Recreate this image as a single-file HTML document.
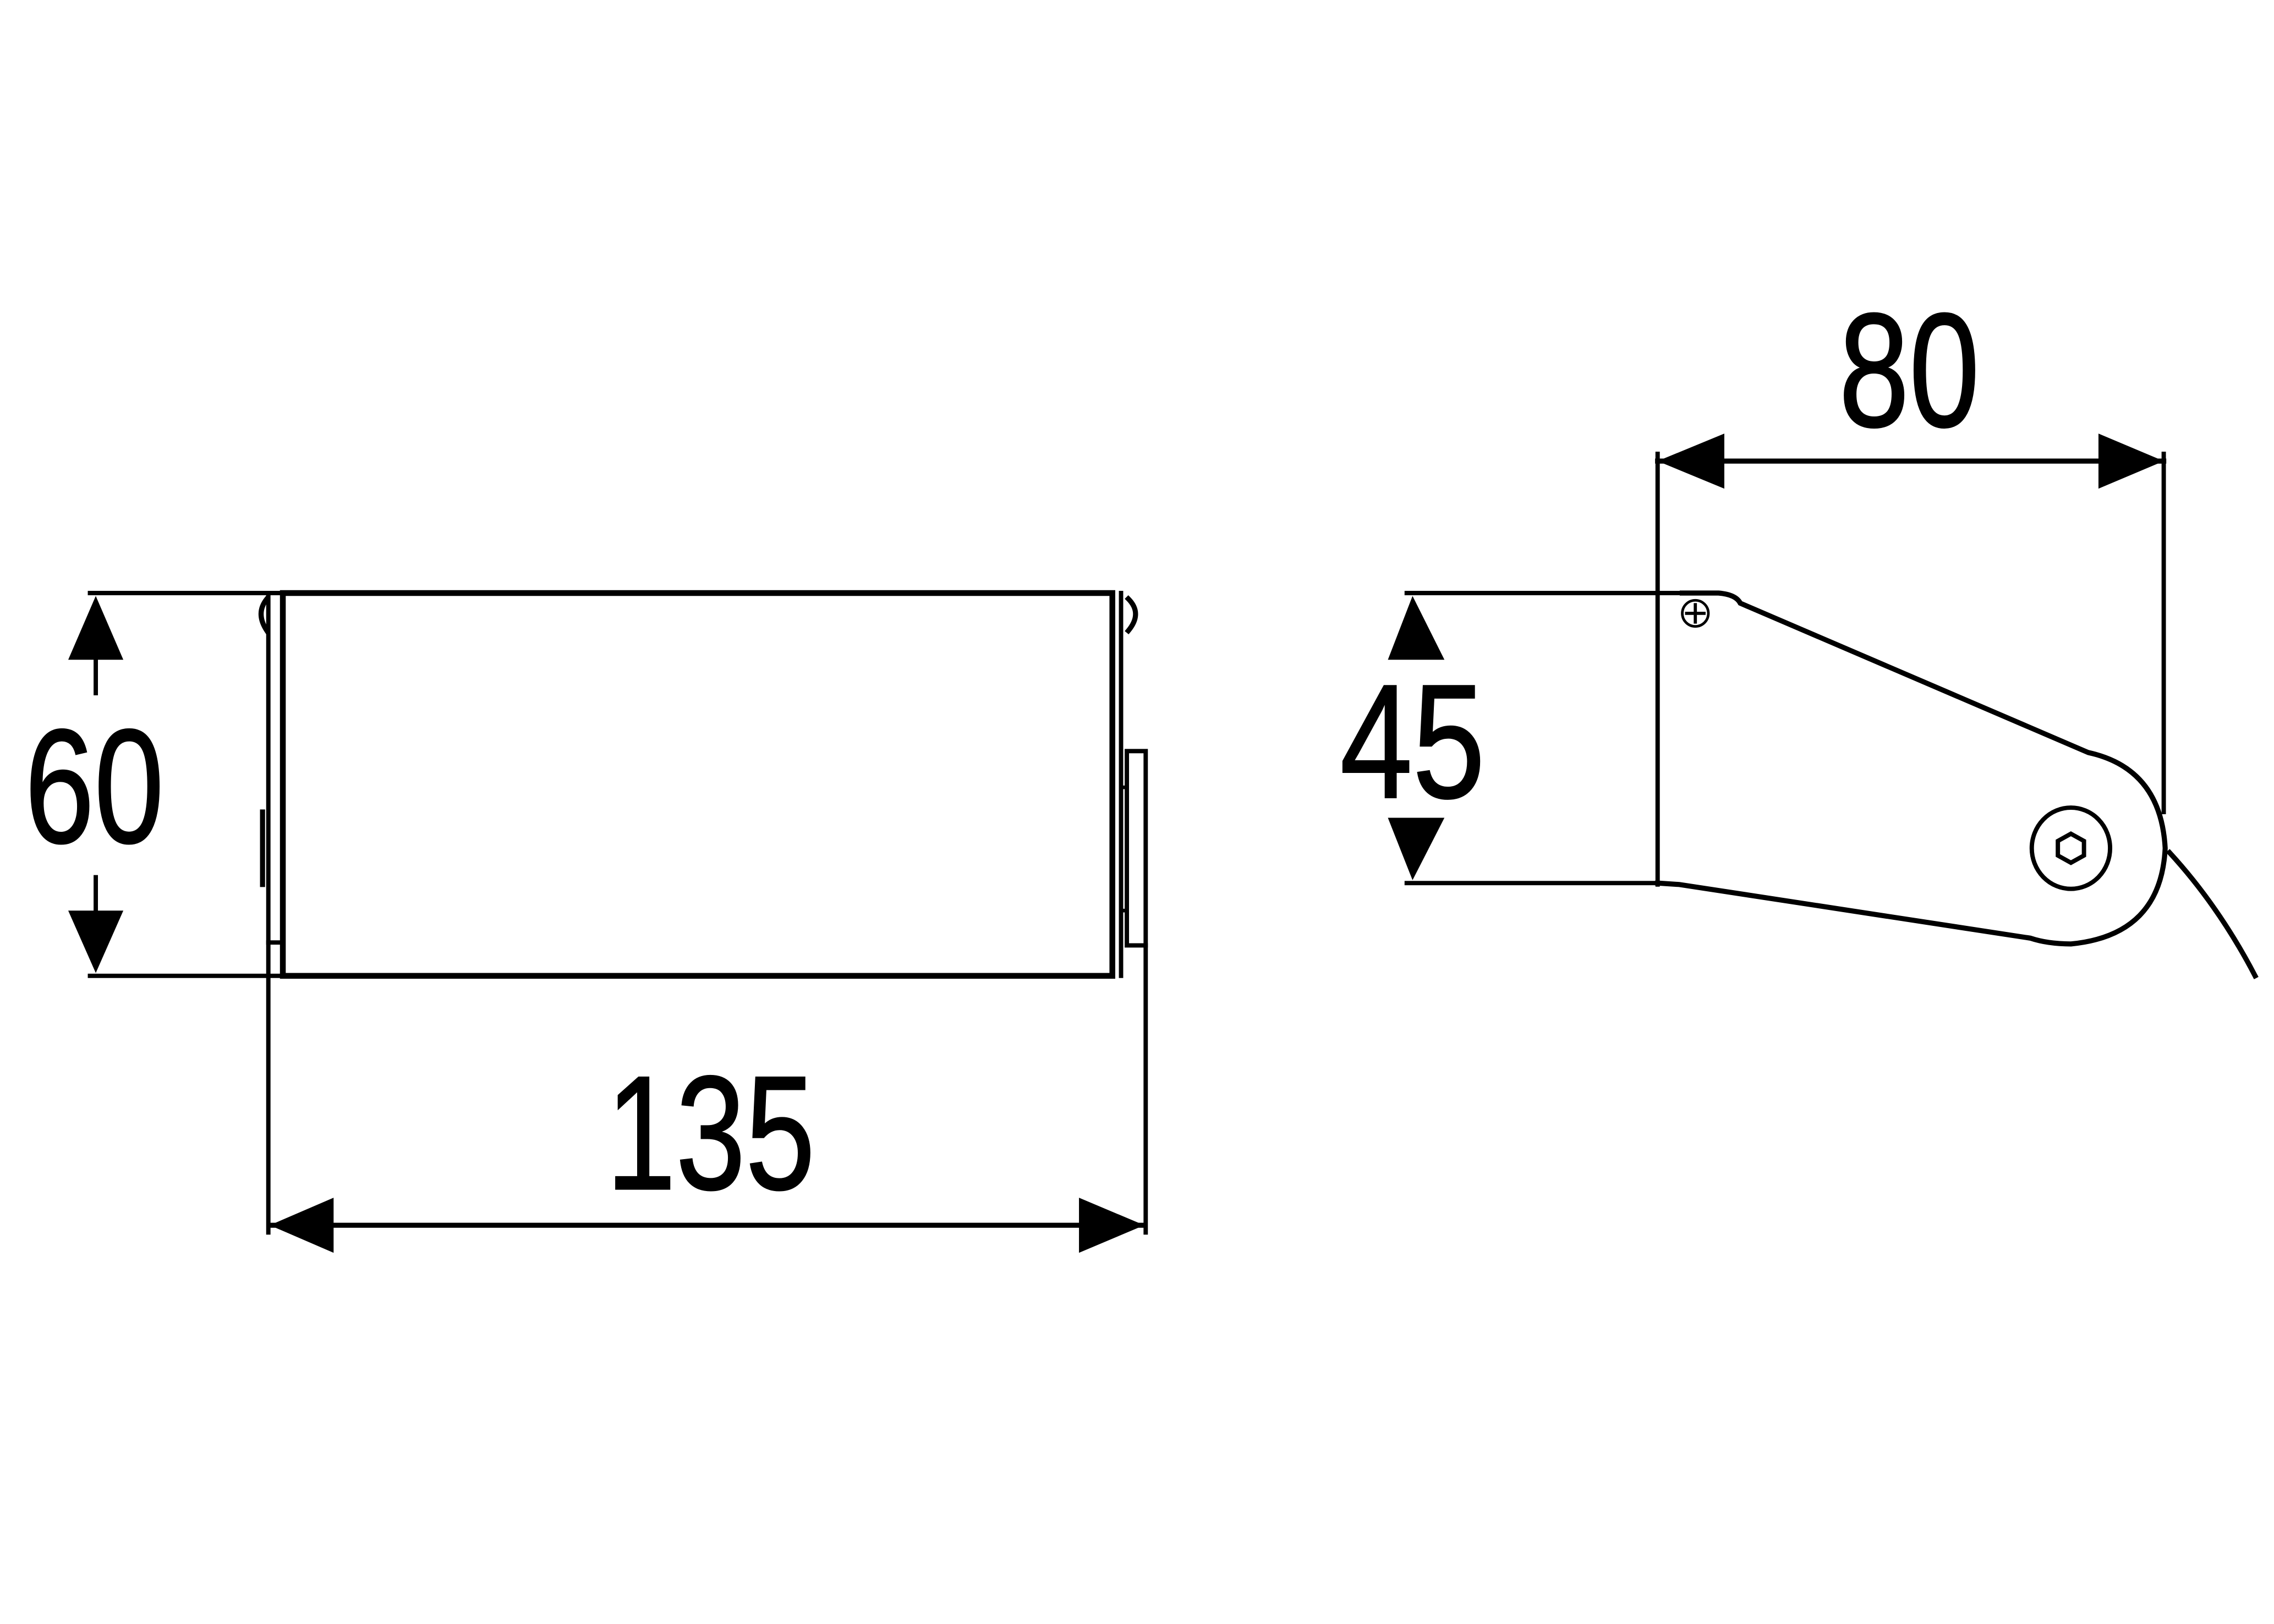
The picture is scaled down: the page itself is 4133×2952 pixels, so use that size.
<!DOCTYPE html>
<html><head><meta charset="utf-8"><style>html,body{margin:0;padding:0;background:#fff}svg{display:block}</style></head>
<body>
<svg width="4133" height="2952" viewBox="0 0 1568 1120" xmlns="http://www.w3.org/2000/svg">
<rect width="1568" height="1120" fill="#fff"/>
<g fill="none" stroke="#000" stroke-width="3.5" stroke-linecap="square">
<!-- Left view -->
<rect x="195" y="409" width="572" height="264" stroke-width="4"/>
<line x1="62" y1="409" x2="195" y2="409" stroke-width="3"/>
<line x1="62" y1="673" x2="195" y2="673" stroke-width="3"/>
<line x1="185" y1="409" x2="185" y2="850" stroke-width="3"/>
<line x1="185" y1="650" x2="195" y2="650" stroke-width="3"/>
<line x1="181" y1="560" x2="181" y2="610" stroke-width="3.5"/>
<path d="M184 413 Q176 423 184 435" stroke-width="3.5"/>
<line x1="773" y1="409" x2="773" y2="673" stroke-width="3"/>
<rect x="777" y="518" width="13" height="134" stroke-width="3"/>
<line x1="790" y1="652" x2="790" y2="850" stroke-width="3"/>
<line x1="773" y1="543" x2="777" y2="543" stroke-width="2.5"/>
<line x1="773" y1="628" x2="777" y2="628" stroke-width="2.5"/>
<path d="M778 413 Q788 423 778 435" stroke-width="3.5"/>
<!-- 60 dim -->
<line x1="66" y1="455" x2="66" y2="478" stroke-width="3"/>
<line x1="66" y1="605" x2="66" y2="628" stroke-width="3"/>
<!-- 135 dim -->
<line x1="186" y1="845" x2="789" y2="845" stroke-width="3.5"/>
<!-- Right view -->
<line x1="1143" y1="313" x2="1143" y2="610" stroke-width="3"/>
<line x1="1492" y1="313" x2="1492" y2="560" stroke-width="3"/>
<line x1="1143" y1="318" x2="1492" y2="318" stroke-width="3.5"/>
<line x1="970" y1="409" x2="1180" y2="409" stroke-width="3"/>
<line x1="970" y1="609" x2="1143" y2="609" stroke-width="3"/>
<path d="M1160 409 L1185 409 Q1197 410 1200 416 L1440 519 Q1490 530 1493 585 Q1490 645 1428 651 Q1412 651 1400 647 L1158 610 L1143 609" stroke-width="3.5"/>
<path d="M1496 588 Q1530 625 1555 673" stroke-width="3.5"/>
<ellipse cx="1428" cy="585" rx="27" ry="28" stroke-width="3"/>
<polygon points="1428,575 1437,580 1437,590 1428,595 1419,590 1419,580" stroke-width="3"/>
<circle cx="1169" cy="423" r="9" stroke-width="1.8"/>
<path d="M1169 417 V429 M1163 423 H1175" stroke-width="2.2"/>
</g>
<g fill="#000">
<polygon points="66,411 47,455 85,455"/>
<polygon points="66,671 47,628 85,628"/>
<polygon points="186,845 230,826 230,864"/>
<polygon points="789,845 744,826 744,864"/>
<polygon points="1143,318 1189,299 1189,337"/>
<polygon points="1492,318 1447,299 1447,337"/>
<polygon points="974,411 957,455 996,455"/>
<polygon points="974,607 957,564 996,564"/>
</g>
<g font-family="Liberation Sans, sans-serif" fill="#000" stroke="#000" stroke-width="1" font-size="112">
<text x="17" y="581" textLength="96" lengthAdjust="spacingAndGlyphs">60</text>
<text x="418" y="820" textLength="144" lengthAdjust="spacingAndGlyphs">135</text>
<text x="1268" y="294" textLength="97" lengthAdjust="spacingAndGlyphs">80</text>
<text x="924" y="550" textLength="100" lengthAdjust="spacingAndGlyphs">45</text>
</g>
</svg>
</body></html>
